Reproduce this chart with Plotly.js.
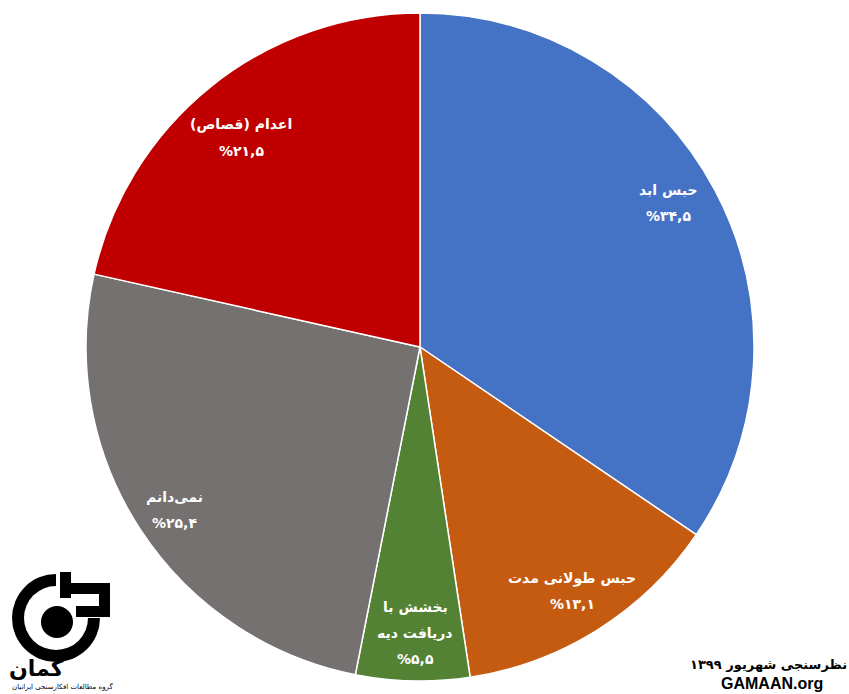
<!DOCTYPE html>
<html>
<head>
<meta charset="utf-8">
<script src="https://cdn.plot.ly/plotly-3.0.1.min.js"></script>
<style>html,body{margin:0;padding:0;background:#fff;}#chart{width:849px;height:694px;}</style>
</head>
<body>
<div id="chart"></div>
<script>
// ---- data ----
const categories = ["حبس ابد", "حبس طولانی مدت", "بخشش با|دریافت دیه", "نمی‌دانم", "اعدام (قصاص)"];
const values = [34.5, 13.1, 5.5, 25.4, 21.5];
const colors = ["#4472C4", "#C55A11", "#548235", "#767171", "#C00000"];
const footerLines = ["نظرسنجی شهریور ۱۳۹۹", "GAMAAN.org"];
const logoTitle = "گمان";
const logoSubtitle = "گروه مطالعات افکارسنجی ایرانیان";

// ---- layout helpers (positions in pixels of the 849x694 page) ----
const W = 849, H = 694;
const px = x => x / W;
const py = y => 1 - y / H;
const labelCenters = [[668, 203], [572, 591], [415, 633], [174, 510], [241, 138]];
const lineGap = 26;
const RLM = "\u200F";
const faDigits = s => s.replace(/[0-9]/g, d => "۰۱۲۳۴۵۶۷۸۹"[+d]).replace(".", ",");

const annotations = [];
categories.forEach((cat, i) => {
  const lines = cat.split("|").map(t => RLM + t + RLM);
  lines.push("%" + faDigits(values[i].toFixed(1)));
  const [cx, cy] = labelCenters[i];
  const start = cy - (lines.length - 1) * lineGap / 2;
  lines.forEach((t, k) => {
    annotations.push({
      xref: "paper", yref: "paper", x: px(cx), y: py(start + k * lineGap),
      xanchor: "center", yanchor: "middle", showarrow: false, text: "<b>" + t + "</b>",
      font: {family: "DejaVu Sans", size: 14, color: "#ffffff"}
    });
  });
});
annotations.push({
  xref: "paper", yref: "paper", x: px(849), y: py(664), xanchor: "right", yanchor: "middle",
  showarrow: false, text: "<b>" + RLM + footerLines[0] + RLM + "</b>",
  font: {family: "DejaVu Sans", size: 13, color: "#000"}
});
annotations.push({
  xref: "paper", yref: "paper", x: px(772), y: py(683), xanchor: "center", yanchor: "middle",
  showarrow: false, text: "<b>" + footerLines[1] + "</b>",
  font: {family: "Liberation Sans", size: 16, color: "#000"}
});
annotations.push({
  xref: "paper", yref: "paper", x: px(36), y: py(668), xanchor: "center", yanchor: "middle",
  showarrow: false, text: "<b>" + logoTitle + "</b>",
  font: {family: "DejaVu Sans", size: 22, color: "#000"}
});
annotations.push({
  xref: "paper", yref: "paper", x: px(62), y: py(686), xanchor: "center", yanchor: "middle",
  showarrow: false, text: RLM + logoSubtitle + RLM,
  font: {family: "DejaVu Sans", size: 7, color: "#000"}
});

// logo shapes
const circ = (cx, cy, r, col) => ({type: "circle", xref: "paper", yref: "paper",
  x0: px(cx - r), x1: px(cx + r), y0: py(cy + r), y1: py(cy - r), fillcolor: col, line: {width: 0}, layer: "above"});
const rect = (x0, y0, x1, y1, col) => ({type: "rect", xref: "paper", yref: "paper",
  x0: px(x0), x1: px(x1), y0: py(y1), y1: py(y0), fillcolor: col, line: {width: 0}, layer: "above"});
const shapes = [
  circ(56, 618, 44, "#000"),
  circ(56, 618, 32, "#fff"),
  rect(56, 570, 102, 618, "#fff"),
  circ(57, 622, 16, "#000"),
  rect(60, 572, 71, 598, "#000"),
  rect(71, 583, 110, 594, "#000"),
  rect(99, 594, 110, 617, "#000"),
  rect(76, 606, 110, 617, "#000")
];

const trace = {
  type: "pie",
  labels: categories.map(c => c.replace("|", " ")),
  values: values,
  sort: false,
  direction: "clockwise",
  rotation: 0,
  marker: {colors: colors, line: {color: "#ffffff", width: 1.5}},
  textinfo: "none",
  hoverinfo: "label+percent",
  domain: {x: [px(86), px(754)], y: [py(681), py(13)]}
};

Plotly.newPlot("chart", [trace], {
  width: W, height: H,
  margin: {l: 0, r: 0, t: 0, b: 0},
  showlegend: false,
  paper_bgcolor: "#fff",
  annotations: annotations,
  shapes: shapes
}, {displayModeBar: false, staticPlot: true});
</script>
</body>
</html>
